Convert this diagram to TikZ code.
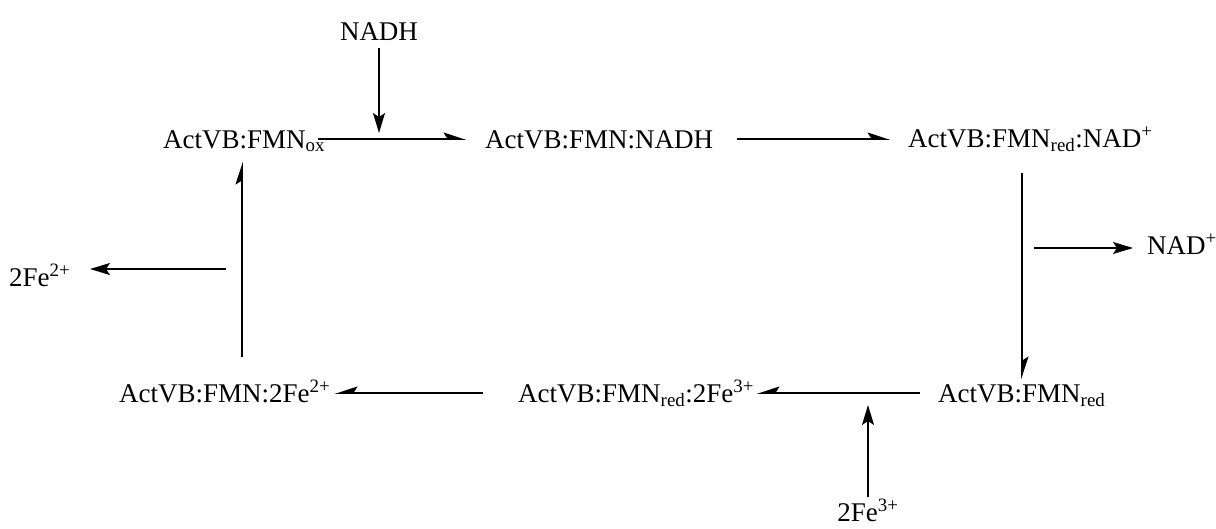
\documentclass[tikz,border=0pt]{standalone}
\usepackage{fontspec}
\setmainfont{Liberation Serif}
\usetikzlibrary{arrows.meta}
\begin{document}
\begin{tikzpicture}[x=1pt,y=-1pt,
  lbl/.style={inner sep=0pt, anchor=base west, font=\fontsize{27}{30}\selectfont},
  lblc/.style={lbl, anchor=base},
  cyc/.style={line width=1.6pt, -{Stealth[harpoon,length=20pt,width=13pt,inset=4pt]}},
  cycs/.style={line width=1.6pt, -{Stealth[harpoon,swap,length=20pt,width=13pt,inset=4pt]}},
  side/.style={line width=1.6pt, -{Stealth[length=20pt,width=12pt,inset=4pt]}}]
\useasboundingbox (0,0) rectangle (1216,528);
% species
\node[lbl] (ox) at (163,148) {ActVB:FMN\textsubscript{ox}};
\node[lbl] (nadhc) at (485,148) {ActVB:FMN:NADH};
\node[lbl] (rednad) at (908,147) {ActVB:FMN\textsubscript{red}:NAD\textsuperscript{+}};
\node[lbl] (red) at (938,402) {ActVB:FMN\textsubscript{red}};
\node[lbl] (redfe) at (518,402) {ActVB:FMN\textsubscript{red}:2Fe\textsuperscript{3+}};
\node[lbl] (fe2c) at (119,402) {ActVB:FMN:2Fe\textsuperscript{2+}};
\node[lblc] (nadh) at (379,40) {NADH};
\node[lbl] (nadp) at (1147,254) {NAD\textsuperscript{+}};
\node[lbl] (fe2) at (9,286) {2Fe\textsuperscript{2+}};
\node[lblc] (fe3) at (868,521) {2Fe\textsuperscript{3+}};
% arrow end points
\coordinate (a1s) at (318,139); \coordinate (a1e) at (466,139);
\coordinate (a2s) at (737,139); \coordinate (a2e) at (890,139);
\coordinate (a3s) at (1022,173); \coordinate (a3e) at (1022,379);
\coordinate (a4s) at (920,393); \coordinate (a4e) at (757,393);
\coordinate (a5s) at (483,393); \coordinate (a5e) at (335,393);
\coordinate (a6s) at (242,357); \coordinate (a6e) at (242,162);
\coordinate (b1s) at (379,48);  \coordinate (b1e) at (379,133);
\coordinate (b2s) at (1034,248); \coordinate (b2e) at (1133,248);
\coordinate (b3s) at (868,497); \coordinate (b3e) at (868,405);
\coordinate (b4s) at (226,269); \coordinate (b4e) at (90,269);
% cycle
\draw[cyc] (a1s) -- (a1e);
\draw[cyc] (a2s) -- (a2e);
\draw[cyc] (a3s) -- (a3e);
\draw[cycs] (a4s) -- (a4e);
\draw[cycs] (a5s) -- (a5e);
\draw[cyc] (a6s) -- (a6e);
% side arrows
\draw[side] (b1s) -- (b1e);
\draw[side] (b2s) -- (b2e);
\draw[side] (b3s) -- (b3e);
\draw[side] (b4s) -- (b4e);
\end{tikzpicture}
\end{document}
